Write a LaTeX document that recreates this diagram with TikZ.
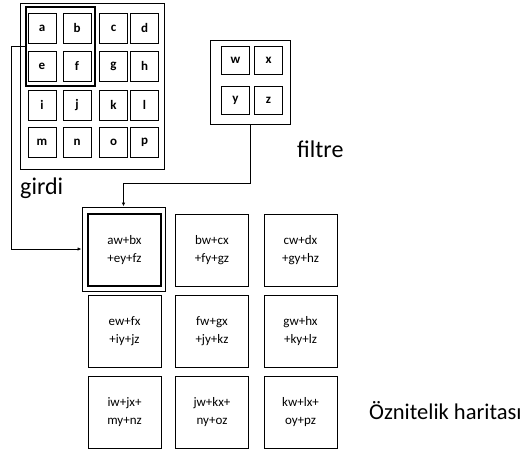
\documentclass[tikz,border=0pt]{standalone}
\usepackage{fontspec}
\setmainfont{Carlito}
\usetikzlibrary{arrows.meta}

\tikzset{
  incell/.style={draw, line width=1pt, minimum width=28pt, minimum height=30pt, inner sep=0pt, font=\fontsize{13}{15}\selectfont\bfseries},
  outcell/.style={draw, line width=1pt, minimum width=73pt, minimum height=72pt, inner sep=0pt, align=center, font=\fontsize{13}{18}\selectfont},
  frame/.style={draw, line width=1pt, inner sep=0pt},
  hilite/.style={draw, line width=1.6pt, inner sep=0pt},
  lbl/.style={font=\fontsize{24}{28}\selectfont, inner sep=0pt},
  link/.style={line width=1pt, -{Latex[length=4pt,width=3.5pt]}}
}

\begin{document}
\begin{tikzpicture}[x=1pt, y=-1pt]
    \useasboundingbox (0,0) rectangle (527,451);
    \begin{scope}
        % Input matrix
        \node[frame, minimum width=144pt, minimum height=166pt] (girdibox) at (92,86) {};
        \node[hilite, minimum width=69pt, minimum height=79pt] (girdisec) at (60.5,46.5) {};
        \node[incell] (a) at (42,28) {a};
        \node[incell] (b) at (77,28) {b};
        \node[incell] (c) at (113.5,28) {c};
        \node[incell] (d) at (144.5,28) {d};
        \node[incell] (e) at (42,66) {e};
        \node[incell] (f) at (77,66) {f};
        \node[incell] (g) at (113.5,66) {g};
        \node[incell] (h) at (144.5,66) {h};
        \node[incell] (i) at (42,105) {i};
        \node[incell] (j) at (77,105) {j};
        \node[incell] (k) at (113.5,105) {k};
        \node[incell] (l) at (144.5,105) {l};
        \node[incell] (m) at (42,142.5) {m};
        \node[incell] (n) at (77,142.5) {n};
        \node[incell] (o) at (113.5,142.5) {o};
        \node[incell] (p) at (144.5,142.5) {p};
        \node[lbl, anchor=base west] (girdi) at (20,194) {girdi};

        % Filter
        \node[frame, minimum width=80pt, minimum height=84pt] (filtrebox) at (250,82) {};
        \node[incell, minimum height=28pt] (w) at (235.5,60) {w};
        \node[incell, minimum height=28pt] (x) at (268.5,60) {x};
        \node[incell, minimum height=28pt] (y) at (235.5,100.5) {y};
        \node[incell, minimum height=28pt] (z) at (268.5,100.5) {z};
        \node[lbl, anchor=base west] (filtre) at (297,157) {filtre};

        % Feature map
        \node[frame, minimum width=83pt, minimum height=84pt] (haritasec) at (123.5,249) {};
        \node[outcell, line width=1.6pt] (r1c1) at (124.5,250) {aw+bx\\+ey+fz};
        \node[outcell] (r1c2) at (212,250) {bw+cx\\+fy+gz};
        \node[outcell] (r1c3) at (300.5,250) {cw+dx\\+gy+hz};
        \node[outcell] (r2c1) at (124.5,331.5) {ew+fx\\+iy+jz};
        \node[outcell] (r2c2) at (212,331.5) {fw+gx\\+jy+kz};
        \node[outcell] (r2c3) at (300.5,331.5) {gw+hx\\+ky+lz};
        \node[outcell] (r3c1) at (124.5,412) {iw+jx+\\my+nz};
        \node[outcell] (r3c2) at (212,412) {jw+kx+\\ny+oz};
        \node[outcell] (r3c3) at (300.5,412) {kw+lx+\\oy+pz};
        \node[lbl, font=\fontsize{22.5}{26}\selectfont, anchor=base west] (harita) at (369,419) {Öznitelik haritası};

        % Connectors
        \draw[link] (girdisec.west) -- ++(-14,0) |- (haritasec.west);
        \draw[link] (filtrebox.south) -- ++(0,59) -| (haritasec.north);
    \end{scope}
\end{tikzpicture}
\end{document}
